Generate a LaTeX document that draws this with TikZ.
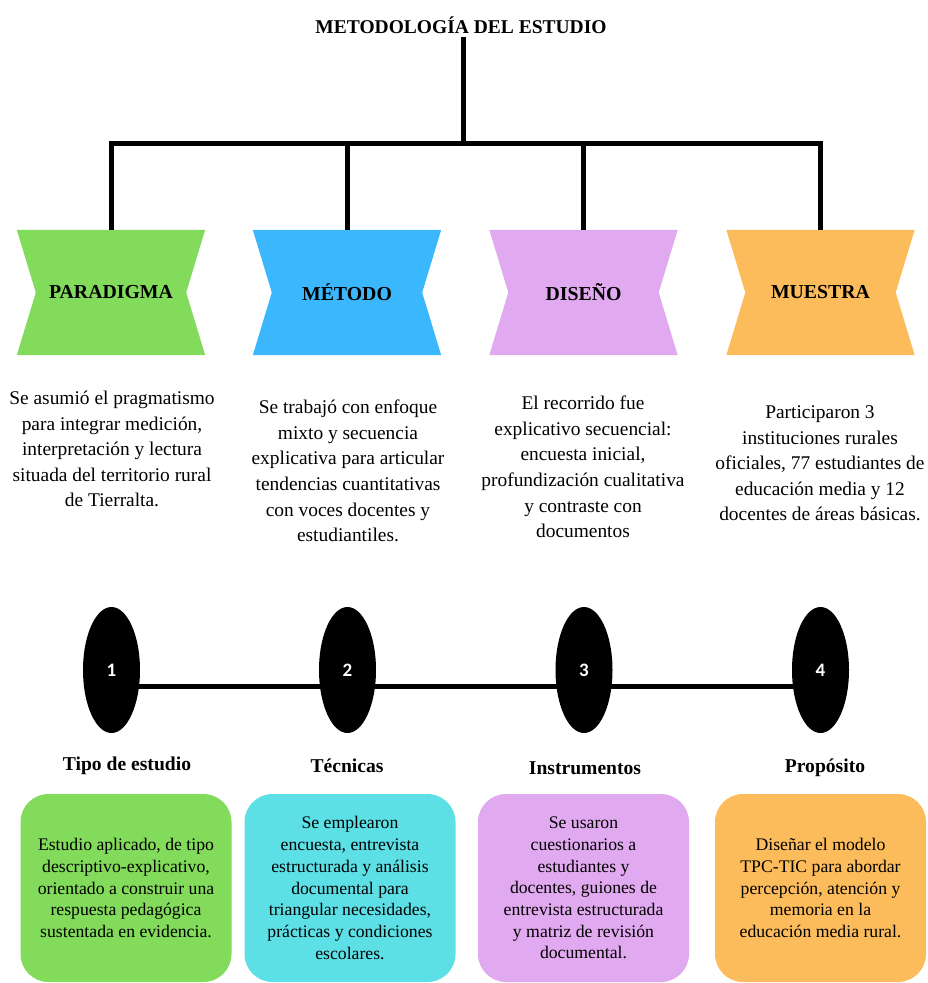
\documentclass[tikz,border=0pt]{standalone}
\usepackage{fontspec}
\setmainfont{Liberation Serif}
\newfontfamily\numfont{Carlito}
\usepackage{xcolor}
\usepackage{tikz}
\usetikzlibrary{shapes}
\usetikzlibrary{backgrounds}
\definecolor{pgreen}{RGB}{130,219,91}
\definecolor{pblue}{RGB}{59,183,254}
\definecolor{plilac}{RGB}{225,169,239}
\definecolor{porange}{RGB}{253,188,91}
\definecolor{pcyan}{RGB}{92,224,230}
\newcommand{\tiefill}[2]{\fill[#2] (#1.north west) -- (#1.north east) -- ([xshift=-19pt]#1.east) -- (#1.south east) -- (#1.south west) -- ([xshift=19pt]#1.west) -- cycle;}

\begin{document}
\begin{tikzpicture}[x=1pt,y=-1pt,every node/.style={inner sep=0pt,align=center},
  wire/.style={line width=5pt,line join=miter},
  tie/.style={minimum width=188pt,minimum height=125pt,font=\bfseries\fontsize{19.8}{19.8}\selectfont},
  desc/.style={font=\fontsize{19.4}{25.6}\selectfont},
  dot/.style={ellipse,fill=black,minimum width=57pt,minimum height=126pt,text=white,font=\numfont\bfseries\fontsize{19}{19}\selectfont},
  topic/.style={font=\bfseries\fontsize{19.6}{19.6}\selectfont},
  card/.style={rounded corners=28pt,minimum width=211pt,minimum height=188pt,font=\fontsize{17.7}{21.7}\selectfont}]

\useasboundingbox (0,0) rectangle (927,983);

\draw node[font=\bfseries\fontsize{19.5}{19.5}\selectfont] at (461,25) (title) {METODOLOGÍA DEL ESTUDIO};

\draw node[tie] at (111,292.5) (par) {PARADIGMA};
\draw node[tie] at (347,292.5) (met) {MÉTODO};
\draw node[tie] at (583.5,292.5) (dis) {DISEÑO};
\draw node[tie] at (820.5,292.5) (mue) {MUESTRA};

\coordinate (hub) at (463,143);
\draw[wire] (463,37) -- (hub);
\draw[wire] (hub) -| (par.north);
\draw[wire] (hub) -| (met.north);
\draw[wire] (hub) -| (dis.north);
\draw[wire] (hub) -| (mue.north);

\draw node[desc] at (112,449) (parx) {Se asumió el pragmatismo\\para integrar medición,\\interpretación y lectura\\situada del territorio rural\\de Tierralta.};
\draw node[desc] at (348,471) (metx) {Se trabajó con enfoque\\mixto y secuencia\\explicativa para articular\\tendencias cuantitativas\\con voces docentes y\\estudiantiles.};
\draw node[desc] at (583,467) (disx) {El recorrido fue\\explicativo secuencial:\\encuesta inicial,\\profundización cualitativa\\y contraste con\\documentos};
\draw node[desc] at (820,463.5) (muex) {Participaron 3\\instituciones rurales\\oficiales, 77 estudiantes de\\educación media y 12\\docentes de áreas básicas.};

\draw node[dot] at (111.5,670) (d1) {1};
\draw node[dot] at (347.5,670) (d2) {2};
\draw node[dot] at (584,670) (d3) {3};
\draw node[dot] at (820.5,670) (d4) {4};

\draw node[topic] at (127,766) (tipo) {Tipo de estudio};
\draw node[topic] at (347,766) (tec) {Técnicas};
\draw node[topic] at (585,768) (ins) {Instrumentos};
\draw node[topic] at (825,768) (pro) {Propósito};

\draw node[card,fill=pgreen] at (126,888) (c1) {Estudio aplicado, de tipo\\descriptivo-explicativo,\\orientado a construir una\\respuesta pedagógica\\sustentada en evidencia.};
\draw node[card,fill=pcyan] at (350,888) (c2) {Se emplearon\\encuesta, entrevista\\estructurada y análisis\\documental para\\triangular necesidades,\\prácticas y condiciones\\escolares.};
\draw node[card,fill=plilac] at (583.5,888) (c3) {Se usaron\\cuestionarios a\\estudiantes y\\docentes, guiones de\\entrevista estructurada\\y matriz de revisión\\documental.};
\draw node[card,fill=porange] at (820.5,888) (c4) {Diseñar el modelo\\TPC-TIC para abordar\\percepción, atención y\\memoria en la\\educación media rural.};

\begin{pgfonlayer}{background}
\tiefill{par}{pgreen}
\tiefill{met}{pblue}
\tiefill{dis}{plilac}
\tiefill{mue}{porange}
\draw[wire] ([yshift=-16pt]d1.center) -- ([yshift=-16pt]d4.center);
\end{pgfonlayer}

\end{tikzpicture}
\end{document}
